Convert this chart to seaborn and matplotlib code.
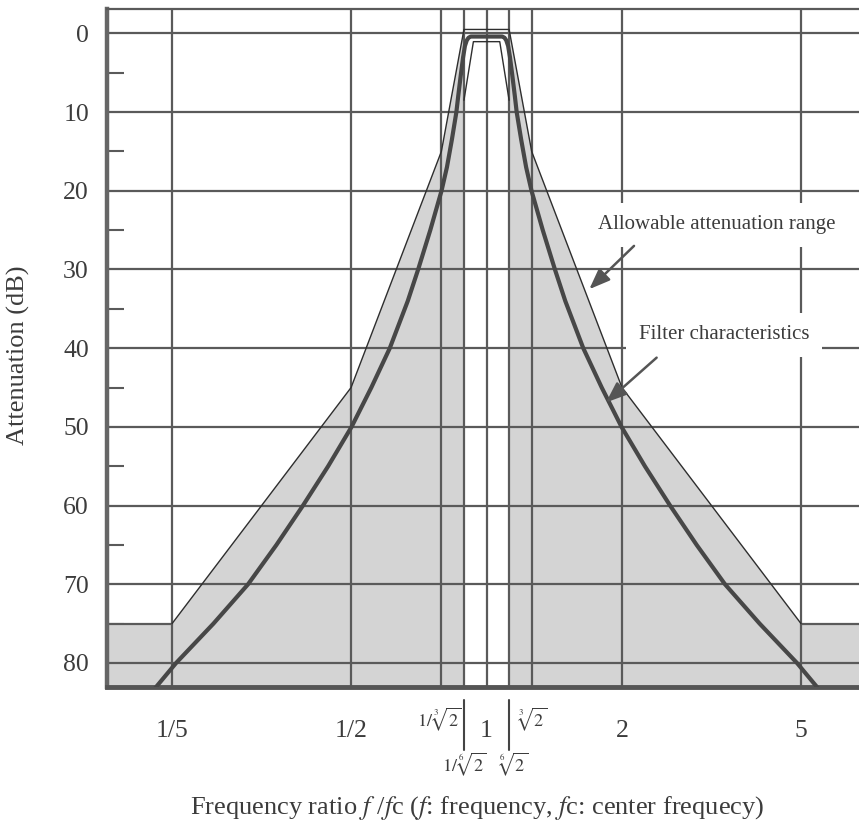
import matplotlib
matplotlib.use("Agg")
import matplotlib.pyplot as plt
import seaborn as sns
from matplotlib.ticker import NullLocator, FixedLocator

# ---------------- data ----------------
filter_ratio = [0.1828, 0.2042, 0.2472, 0.2951, 0.3412, 0.3908, 0.4446, 0.5012, 0.5546,
                0.6095, 0.6683, 0.7047, 0.7499, 0.7943, 0.8166, 0.8375, 0.8570, 0.8650,
                0.8770, 0.8872, 0.8953, 0.9036, 0.9120, 0.9226,
                1.0,
                1.0839, 1.0965, 1.1066, 1.1169, 1.1272, 1.1402, 1.1561, 1.1668, 1.1940,
                1.2246, 1.2589, 1.3335, 1.4191, 1.4962, 1.6406, 1.8030, 1.9953, 2.2491,
                2.5586, 2.9309, 3.3884, 4.0458, 4.8978, 5.4702]
filter_db = [83.3, 80, 75, 70, 65, 60, 55, 50, 45,
             40, 34, 30, 25, 20, 17, 13.5, 10, 8,
             5.2, 3, 1.6, 0.9, 0.55, 0.4,
             0.4,
             0.4, 0.55, 0.9, 1.6, 3, 5.2, 8, 10, 13.5,
             17, 20, 25, 30, 34, 40, 45, 50, 55,
             60, 65, 70, 75, 80, 83.3]

# allowable attenuation range: outer (minimum attenuation) boundary
allow_outer_ratio = [0.2, 0.5, 0.7937, 0.8909, 1.1225, 1.2599, 2.0, 5.0]
allow_outer_db = [75, 45, 15, -0.5, -0.5, 15, 45, 75]
# inner (maximum attenuation inside the pass band) boundary
allow_inner_ratio = [0.8909, 0.935, 1.07, 1.1225]
allow_inner_db = [8.5, 1.05, 1.05, 8.5]
stop_floor_db = 75

grid_ratio = [0.2, 0.5, 0.7937, 0.8909, 1.0, 1.1225, 1.2599, 2.0, 5.0]
grid_db = [0, 10, 20, 30, 40, 50, 60, 70, 80]
minor_db = [5, 15, 25, 35, 45, 55, 65, 75]

xtick_ratio = [0.2, 0.5, 1.0, 2.0, 5.0]
xtick_labels = ["1/5", "1/2", "1", "2", "5"]

XMIN, XMAX = 0.1434, 6.726
YTOP, YBOT = -3.1, 83.05

# ---------------- style ----------------
sns.set_theme(style="white")
plt.rcParams["font.family"] = ["Liberation Serif", "DejaVu Serif"]
plt.rcParams["mathtext.fontset"] = "stix"
TXT = "#3c3c3c"
GRID = "#5a5a5a"
FILL = "#d4d4d4"

fig = plt.figure(figsize=(8.59, 8.23), dpi=100)
ax = fig.add_axes([107 / 859, 136 / 823, 752 / 859, 678 / 823])
ax.set_xscale("log")
ax.set_xlim(XMIN, XMAX)
ax.set_ylim(YBOT, YTOP)

# shaded allowable region (left and right)
lo_r, lo_d = allow_outer_ratio[:4], allow_outer_db[:4]
hi_r, hi_d = allow_outer_ratio[4:], allow_outer_db[4:]
left_poly_x = [lo_r[-1]] + lo_r[::-1] + [XMIN, XMIN, lo_r[-1]]
left_poly_y = [lo_d[-1]] + lo_d[::-1] + [stop_floor_db, YBOT + 1, YBOT + 1]
ax.fill(left_poly_x, left_poly_y, color=FILL, lw=0, zorder=1)
right_poly_x = hi_r + [XMAX * 1.05, XMAX * 1.05, hi_r[0]]
right_poly_y = hi_d + [stop_floor_db, YBOT + 1, YBOT + 1]
ax.fill(right_poly_x, right_poly_y, color=FILL, lw=0, zorder=1)

# grid
for r in grid_ratio:
    ax.axvline(r, color=GRID, lw=1.6, zorder=2)
for d in grid_db:
    ax.axhline(d, color=GRID, lw=1.6, zorder=2)
# stop-band floor segments
ax.plot([XMIN, allow_outer_ratio[0]], [stop_floor_db] * 2, color=GRID, lw=1.6, zorder=2)
ax.plot([allow_outer_ratio[-1], XMAX], [stop_floor_db] * 2, color=GRID, lw=1.6, zorder=2)

# boundary lines
sns.lineplot(x=allow_outer_ratio, y=allow_outer_db, sort=False, estimator=None,
             color="#2e2e2e", lw=1.0, ax=ax, zorder=3)
sns.lineplot(x=allow_inner_ratio, y=allow_inner_db, sort=False, estimator=None,
             color="#2e2e2e", lw=1.0, ax=ax, zorder=3)
# filter characteristic
sns.lineplot(x=filter_ratio, y=filter_db, sort=False, estimator=None,
             color="#474747", lw=3.0, ax=ax, zorder=4, solid_joinstyle="round")

# spines
ax.spines["right"].set_visible(False)
ax.spines["left"].set_linewidth(3.2)
ax.spines["left"].set_color("#666666")
ax.spines["bottom"].set_linewidth(3.5)
ax.spines["bottom"].set_color("#555555")
ax.spines["top"].set_linewidth(1.6)
ax.spines["top"].set_color(GRID)

# ticks
ax.yaxis.set_major_locator(FixedLocator(grid_db))
ax.set_yticklabels([str(d) for d in grid_db])
ax.yaxis.set_minor_locator(FixedLocator(minor_db))
ax.tick_params(axis="y", which="major", length=0, pad=13, labelsize=18.5, labelcolor=TXT, left=True)
ax.tick_params(axis="y", which="minor", direction="in", length=12, width=1.5, color=GRID, left=True)
ax.set_xticks(xtick_ratio)
ax.set_xticklabels(xtick_labels)
ax.xaxis.set_minor_locator(NullLocator())
ax.tick_params(axis="x", which="major", length=0, pad=24, labelsize=18.5, labelcolor=TXT, bottom=True)
ax.set_xlabel("")
ax.set_ylabel("")

# extra band-edge labels below the axis
xt = ax.get_xaxis_transform()
ax.text(0.7937 * 0.99, -0.047, r"$1/\,\sqrt[3]{2}$", transform=xt, ha="center", va="center",
        fontsize=13, color=TXT, clip_on=False)
ax.text(1.2599, -0.047, r"$\sqrt[3]{2}$", transform=xt, ha="center", va="center",
        fontsize=13, color=TXT, clip_on=False)
ax.text(0.8909, -0.1136, r"$1/\,\sqrt[6]{2}$", transform=xt, ha="center", va="center",
        fontsize=13, color=TXT, clip_on=False)
ax.text(1.1225 * 1.02, -0.1136, r"$\sqrt[6]{2}$", transform=xt, ha="center", va="center",
        fontsize=13, color=TXT, clip_on=False)
for r in [0.8909, 1.1225]:
    ax.plot([r, r], [-0.019, -0.093], transform=xt, color="#444444", lw=1.5, clip_on=False)

# annotations
box = dict(facecolor="white", edgecolor="none", pad=9)
ax.text(3.245, 24.3, "Allowable attenuation range", ha="center", va="center",
        fontsize=15, color=TXT, bbox=box, zorder=6)
ax.text(3.37, 38.3, "Filter characteristics", ha="center", va="center",
        fontsize=15, color=TXT, bbox=box, zorder=6)
arrow = dict(arrowstyle="-|>,head_length=0.9,head_width=0.35", color="#555555", lw=1.8,
             mutation_scale=14, shrinkA=0, shrinkB=0)
ax.annotate("", xy=(1.692, 32.5), xytext=(2.127, 27.0), arrowprops=arrow, zorder=6)
ax.annotate("", xy=(1.843, 46.9), xytext=(2.388, 41.2), arrowprops=arrow, zorder=6)

fig.text(18 / 859, (823 - 355) / 823, "Attenuation (dB)", rotation=90, ha="center", va="center",
         fontsize=19, color=TXT)
fig.text(477 / 859, (823 - 808) / 823,
         r"Frequency ratio $f$ /$f$c ($f$: frequency, $f$c: center frequecy)",
         ha="center", va="center", fontsize=19, color=TXT)

fig.savefig("out.png", dpi=100)
